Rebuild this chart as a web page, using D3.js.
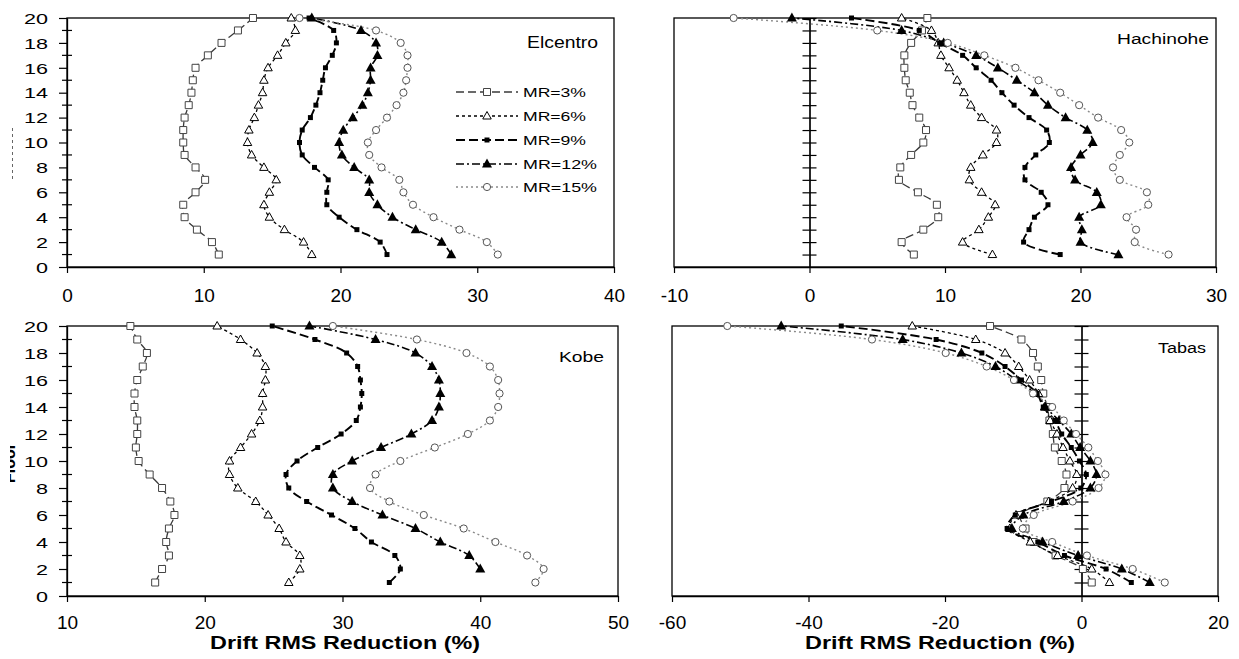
<!DOCTYPE html>
<html><head><meta charset="utf-8">
<script src="https://cdn.jsdelivr.net/npm/d3@7"></script>
<style>
body{margin:0;background:#fff}
svg{display:block}
text{font-family:Arial,"Liberation Sans",sans-serif;fill:#000}
</style>
</head><body>
<svg id="c" width="1239" height="659"></svg>
<script>
// ---------------- data ----------------
const floors = [1,2,3,4,5,6,7,8,9,10,11,12,13,14,15,16,17,18,19,20];
const seriesNames = ["MR=3%","MR=6%","MR=9%","MR=12%","MR=15%"];

// Elcentro (floor 1 .. 20)
const elcentroMR3  = [11.1,10.6,9.5,8.6,8.5,9.4,10.1,9.4,8.6,8.5,8.5,8.6,8.9,9.1,9.2,9.4,10.3,11.3,12.5,13.6];
const elcentroMR6  = [17.9,17.3,15.9,14.8,14.4,14.8,15.3,14.4,13.5,13.2,13.3,13.7,14.0,14.3,14.4,14.7,15.4,16.0,16.7,16.4];
const elcentroMR9  = [23.4,22.9,21.2,19.9,19.0,19.0,19.1,18.1,17.2,17.0,17.2,17.8,18.2,18.5,18.7,18.9,19.4,19.7,19.5,17.7];
const elcentroMR12 = [28.1,27.4,25.5,23.8,22.7,22.1,22.1,21.0,20.1,19.9,20.2,20.9,21.6,22.0,22.2,22.2,22.7,22.6,21.5,17.9];
const elcentroMR15 = [31.5,30.7,28.7,26.8,25.3,24.6,24.3,23.0,22.1,22.0,22.6,23.4,24.1,24.6,24.8,24.9,24.9,24.4,22.6,17.0];

// Hachinohe
const hachinoheMR3  = [7.7,6.8,8.4,9.5,9.4,8.0,6.6,6.7,7.5,8.4,8.6,8.1,7.6,7.4,7.1,7.0,7.0,7.5,8.3,8.7];
const hachinoheMR6  = [13.5,11.3,12.5,13.2,13.7,12.7,11.8,11.9,12.8,13.8,13.8,12.7,11.9,11.4,10.9,10.3,9.7,9.5,9.0,6.8];
const hachinoheMR9  = [18.5,15.8,16.2,16.6,17.6,17.1,15.9,15.9,16.7,17.7,17.5,16.2,15.1,14.2,13.4,12.3,11.3,9.6,8.1,3.1];
const hachinoheMR12 = [22.8,20.0,20.1,19.9,21.5,21.2,19.6,19.3,20.0,20.9,20.5,18.9,17.6,16.6,15.3,13.9,12.3,9.9,6.8,-1.3];
const hachinoheMR15 = [26.5,24.0,24.1,23.4,25.0,24.9,22.9,22.4,22.9,23.6,23.0,21.3,19.9,18.5,16.9,15.2,12.9,10.2,5.0,-5.6];

// Kobe
const kobeMR3  = [16.4,16.9,17.4,17.2,17.4,17.8,17.5,16.9,16.0,15.2,15.0,15.1,15.1,14.9,14.9,15.1,15.5,15.8,15.1,14.6];
const kobeMR6  = [26.1,26.9,26.9,25.9,25.4,24.6,23.7,22.4,21.8,21.8,22.6,23.4,24.0,24.2,24.2,24.4,24.4,23.8,22.6,20.9];
const kobeMR9  = [33.4,34.2,33.8,32.1,30.9,29.2,27.4,26.1,25.9,26.7,28.2,29.9,31.0,31.3,31.4,31.3,31.1,30.3,28.0,24.9];
const kobeMR12 = [null,40.0,39.2,37.1,35.3,32.9,30.7,29.3,29.3,30.7,32.8,35.0,36.5,37.0,37.1,37.0,36.5,35.3,32.4,27.6];
const kobeMR15 = [44.0,44.6,43.4,41.1,38.8,35.9,33.4,32.0,32.4,34.2,36.7,39.1,40.7,41.3,41.4,41.3,40.7,39.0,35.4,29.3];

// Tabas
const tabasMR3  = [1.5,0.2,-3.8,-7.0,-8.2,-9.0,-5.0,-2.5,-2.2,-2.9,-3.9,-4.2,-4.7,-5.0,-5.6,-5.9,-6.4,-7.1,-8.8,-13.4];
const tabasMR6  = [4.1,1.5,-3.5,-7.5,-10.5,-9.6,-4.8,-1.3,-0.7,-1.7,-2.7,-3.6,-4.6,-5.4,-6.3,-7.6,-9.2,-11.2,-15.5,-24.8];
const tabasMR9  = [7.3,3.6,-2.5,-6.4,-10.9,-9.7,-4.4,-0.1,0.7,-0.3,-1.5,-2.9,-3.9,-5.6,-6.5,-8.8,-11.2,-14.6,-21.3,-35.2];
const tabasMR12 = [10.0,5.9,-0.5,-5.7,-10.2,-8.5,-2.6,1.3,2.2,1.3,-0.2,-1.5,-3.3,-5.3,-6.8,-9.5,-12.6,-17.6,-26.2,-44.0];
const tabasMR15 = [12.2,7.5,0.8,-4.3,-8.6,-7.0,-1.3,2.5,3.5,2.4,1.0,-0.8,-2.6,-4.3,-7.1,-9.9,-13.9,-19.9,-30.7,-51.9];

// tick labels
const xTicksElcentro  = [0,10,20,30,40];
const xTicksHachinohe = [-10,0,10,20,30];
const xTicksKobe      = [10,20,30,40,50];
const xTicksTabas     = [-60,-40,-20,0,20];
const yTicksMajor = [0,2,4,6,8,10,12,14,16,18,20];
const yTicksMinor = [1,3,5,7,9,11,13,15,17,19];
const xTitle = "Drift RMS Reduction (%)";
const yTitle = "Floor";

// ---------------- layout / styles ----------------
const panels = [
  {label:"Elcentro", series:[elcentroMR3,elcentroMR6,elcentroMR9,elcentroMR12,elcentroMR15],
   domain:[0,40], ticks:xTicksElcentro, l:67, r:614, t:18, b:267, leftAxis:true,
   lab:{x:527,y:48,size:16,len:71}, tickBase:302, legend:true},
  {label:"Hachinohe", series:[hachinoheMR3,hachinoheMR6,hachinoheMR9,hachinoheMR12,hachinoheMR15],
   domain:[-10,30], ticks:xTicksHachinohe, l:674, r:1216, t:18, b:267, leftAxis:false,
   lab:{x:1117,y:44,size:15.5,len:92}, tickBase:302},
  {label:"Kobe", series:[kobeMR3,kobeMR6,kobeMR9,kobeMR12,kobeMR15],
   domain:[10,50], ticks:xTicksKobe, l:67, r:618, t:326, b:596, leftAxis:true,
   lab:{x:559,y:362,size:15.5,len:45}, tickBase:629, title:true, titleX:345},
  {label:"Tabas", series:[tabasMR3,tabasMR6,tabasMR9,tabasMR12,tabasMR15],
   domain:[-60,20], ticks:xTicksTabas, l:672, r:1218, t:326, b:596, leftAxis:false,
   lab:{x:1158,y:353,size:15.5,len:48}, tickBase:629, title:true, titleX:940}
];

const lineStyles = [
  {stroke:"#3a3a3a", w:1.3, dash:"8,4"},
  {stroke:"#000",    w:1.3, dash:"3,3"},
  {stroke:"#000",    w:1.9, dash:"9,4"},
  {stroke:"#000",    w:1.6, dash:"8,3,2,3"},
  {stroke:"#8a8a8a", w:1.4, dash:"2,3"}
];
const sq = s => `M${-s/2},${-s/2}h${s}v${s}h${-s}Z`;
const tri = (w,h) => `M0,${-h*0.6}L${w/2},${h*0.4}L${-w/2},${h*0.4}Z`;
const markerStyles = [
  {d:sq(7),       fill:"#fff", stroke:"#444", sw:1},
  {d:tri(8.5,7.5),fill:"#fff", stroke:"#000", sw:1},
  {d:sq(5),       fill:"#000", stroke:"none", sw:0},
  {d:tri(10,9),   fill:"#000", stroke:"none", sw:0},
  {d:null, r:3.6, fill:"#fff", stroke:"#555", sw:1}
];

const svg = d3.select("#c");
const defs = svg.append("defs");
defs.append("clipPath").attr("id","ytclip").append("rect")
  .attr("x",10).attr("y",300).attr("width",12).attr("height",300);

function drawMarker(g, i, x, y){
  const m = markerStyles[i];
  if (m.d) {
    g.append("path").attr("d", m.d).attr("transform",`translate(${x},${y})`)
      .attr("fill", m.fill).attr("stroke", m.stroke).attr("stroke-width", m.sw);
  } else {
    g.append("circle").attr("cx",x).attr("cy",y).attr("r",m.r)
      .attr("fill", m.fill).attr("stroke", m.stroke).attr("stroke-width", m.sw);
  }
}

panels.forEach(p => {
  const x = d3.scaleLinear().domain(p.domain).range([p.l, p.r]);
  const y = d3.scaleLinear().domain([0,20]).range([p.b, p.t]);
  const g = svg.append("g");

  // frame
  g.append("rect").attr("x",p.l).attr("y",p.t).attr("width",p.r-p.l).attr("height",p.b-p.t)
    .attr("fill","none").attr("stroke","#000").attr("stroke-width",1.3);

  // x axis
  const xa = g.append("g").attr("transform",`translate(0,${p.b})`)
    .call(d3.axisBottom(x).tickValues(p.ticks).tickSize(6).tickSizeOuter(0).tickFormat(d => String(d)));
  xa.select(".domain").attr("stroke","#000").attr("stroke-width",1.3);
  xa.selectAll(".tick line").attr("stroke","#000").attr("stroke-width",1.2);
  xa.selectAll(".tick text").attr("y", p.tickBase - p.b).attr("dy",null)
    .style("font-size","19px").style("font-family","Arial, 'Liberation Sans', sans-serif").attr("fill","#000");

  if (p.leftAxis) {
    const ya = g.append("g").attr("transform",`translate(${p.l},0)`)
      .call(d3.axisLeft(y).tickValues(yTicksMajor).tickSize(8).tickSizeOuter(0).tickFormat(d => String(d)));
    ya.select(".domain").attr("stroke","#000").attr("stroke-width",1.3);
    ya.selectAll(".tick line").attr("stroke","#000").attr("stroke-width",1.2);
    ya.selectAll(".tick text").attr("x",-19).attr("dy","0.36em")
      .style("font-size","14.5px").style("font-family","Arial, 'Liberation Sans', sans-serif").attr("fill","#000")
      .attr("textLength", d => String(d).length*12).attr("lengthAdjust","spacingAndGlyphs");
    g.append("g").selectAll("line").data(yTicksMinor).join("line")
      .attr("x1",p.l-5).attr("x2",p.l+5).attr("y1",d=>y(d)).attr("y2",d=>y(d))
      .attr("stroke","#000").attr("stroke-width",1.2);
  } else {
    const cx = x(0);
    const left = g.append("g").attr("transform",`translate(${cx},0)`)
      .call(d3.axisLeft(y).tickValues(floors).tickSize(7).tickSizeOuter(0).tickFormat(""));
    const right = g.append("g").attr("transform",`translate(${cx},0)`)
      .call(d3.axisRight(y).tickValues(floors).tickSize(7).tickSizeOuter(0).tickFormat(""));
    [left,right].forEach(a => {
      a.select(".domain").attr("stroke","#000").attr("stroke-width",1.2);
      a.selectAll(".tick line").attr("stroke","#000").attr("stroke-width",1.2);
    });
  }

  // series
  const line = d3.line().defined(d => d.v != null).x(d => x(d.v)).y(d => y(d.f))
    .curve(d3.curveCatmullRom.alpha(0.5));
  p.series.forEach((vals, i) => {
    const pts = floors.map((f,k) => ({f, v: vals[k]}));
    const ls = lineStyles[i];
    g.append("path").datum(pts).attr("d", line).attr("fill","none")
      .attr("stroke", ls.stroke).attr("stroke-width", ls.w).attr("stroke-dasharray", ls.dash);
  });
  p.series.forEach((vals, i) => {
    const mg = g.append("g");
    floors.forEach((f,k) => { if (vals[k] != null) drawMarker(mg, i, x(vals[k]), y(f)); });
  });

  // panel label
  g.append("text").attr("x",p.lab.x).attr("y",p.lab.y).text(p.label)
    .style("font-size",p.lab.size+"px").attr("textLength",p.lab.len).attr("lengthAdjust","spacingAndGlyphs");

  // legend
  if (p.legend) {
    const ly = [92,116,140,164,187];
    seriesNames.forEach((nm,i) => {
      const ls = lineStyles[i];
      g.append("line").attr("x1",456).attr("x2",518).attr("y1",ly[i]).attr("y2",ly[i])
        .attr("stroke",ls.stroke).attr("stroke-width",ls.w).attr("stroke-dasharray",ls.dash);
      drawMarker(g, i, 487, ly[i]);
      g.append("text").attr("x",523).attr("y",ly[i]+5).text(nm)
        .style("font-size","13.5px").attr("textLength", nm.length > 5 ? 74 : 63).attr("lengthAdjust","spacingAndGlyphs");
    });
  }

  // x title
  if (p.title) {
    g.append("text").attr("x",p.titleX).attr("y",649).attr("text-anchor","middle").text(xTitle)
      .style("font-size","18px").style("font-weight","bold")
      .attr("textLength",270).attr("lengthAdjust","spacingAndGlyphs");
  }
});

// clipped y title (mostly cut off in the reference)
svg.append("g").attr("clip-path","url(#ytclip)")
  .append("text").attr("transform","translate(15,463) rotate(-90)").attr("text-anchor","middle")
  .text(yTitle).style("font-size","16px").style("font-weight","bold");
svg.append("line").attr("x1",12.5).attr("x2",12.5).attr("y1",128).attr("y2",180)
  .attr("stroke","#666").attr("stroke-width",1).attr("stroke-dasharray","3,3");
</script>
</body></html>
